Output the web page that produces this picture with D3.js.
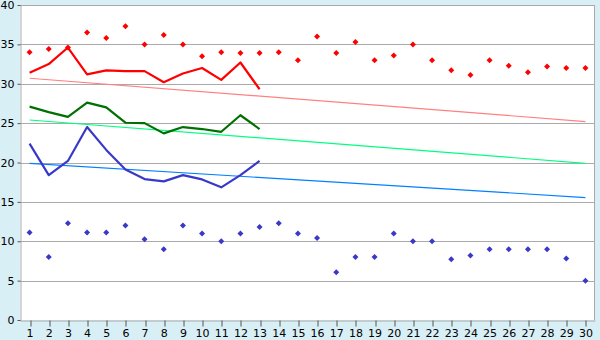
<!DOCTYPE html>
<html>
<head>
<meta charset="utf-8">
<script src="https://cdn.jsdelivr.net/npm/d3@7"></script>
<style>
  body { margin: 0; background: #d9eff6; }
  svg { display: block; }
  .tick text { font-family: "DejaVu Sans", sans-serif; font-size: 11px; fill: #000; }
</style>
</head>
<body>
<div id="chart"></div>
<script>
const days = d3.range(1, 31);
const yTicks = [0, 5, 10, 15, 20, 25, 30, 35, 40];

// daily points (full month)
const redPoints = [34.0, 34.4, 34.6, 36.5, 35.8, 37.3, 35.0, 36.2, 35.0, 33.5,
  34.0, 33.9, 33.9, 34.0, 33.0, 36.0, 33.9, 35.3, 33.0, 33.6,
  35.0, 33.0, 31.7, 31.1, 33.0, 32.3, 31.45, 32.2, 32.0, 32.0];
const bluePoints = [11.1, 8.0, 12.3, 11.1, 11.1, 12.0, 10.25, 9.0, 12.0, 11.0,
  10.0, 11.0, 11.8, 12.3, 11.0, 10.4, 6.05, 8.0, 8.0, 11.0,
  10.0, 10.0, 7.7, 8.2, 9.0, 9.0, 9.0, 9.0, 7.8, 5.0];

// lines (days 1..13)
const redLine = [31.4, 32.5, 34.6, 31.2, 31.7, 31.6, 31.6, 30.2, 31.3, 32.0, 30.5, 32.7, 29.3];
const greenLine = [27.1, 26.4, 25.8, 27.6, 27.0, 25.05, 25.0, 23.7, 24.5, 24.25, 23.9, 26.0, 24.25];
const blueLine = [22.4, 18.4, 20.2, 24.5, 21.6, 19.1, 17.9, 17.6, 18.4, 17.85, 16.85, 18.4, 20.2];

// trend lines, value at day 1 and day 30
const redTrend = [30.7, 25.2];
const greenTrend = [25.4, 19.9];
const blueTrend = [19.9, 15.55];

const width = 600, height = 340;
const margin = { top: 5, right: 5, bottom: 20, left: 20 };

const svg = d3.select('#chart').append('svg')
  .attr('width', width)
  .attr('height', height);

const x = d3.scalePoint()
  .domain(days)
  .range([margin.left, width - margin.right])
  .padding(0.5);

const y = d3.scaleLinear()
  .domain([0, 40])
  .range([height - margin.bottom, margin.top]);

const crisp = v => Math.round(v) + 0.5;

// plot background
svg.append('rect')
  .attr('x', margin.left)
  .attr('y', margin.top)
  .attr('width', width - margin.left - margin.right)
  .attr('height', height - margin.top - margin.bottom)
  .attr('fill', '#fff');

// gridlines
svg.append('g')
  .selectAll('line')
  .data(yTicks.filter(t => t > 0))
  .enter()
  .append('line')
  .attr('x1', margin.left)
  .attr('x2', width - margin.right)
  .attr('y1', d => crisp(y(d)))
  .attr('y2', d => crisp(y(d)))
  .attr('stroke', '#aaa');

// right border
svg.append('line')
  .attr('x1', crisp(width - margin.right - 1))
  .attr('x2', crisp(width - margin.right - 1))
  .attr('y1', margin.top)
  .attr('y2', height - margin.bottom)
  .attr('stroke', '#aaa');

// axes
const xAxis = svg.append('g')
  .attr('transform', `translate(0,${crisp(y(0))})`)
  .call(d3.axisBottom(x).tickSize(6).tickPadding(3).tickSizeOuter(0));

const yAxis = svg.append('g')
  .attr('transform', `translate(${crisp(margin.left)},0)`)
  .call(d3.axisLeft(y).tickValues(yTicks).tickSize(3).tickPadding(3).tickSizeOuter(0));

[xAxis, yAxis].forEach(a => {
  a.select('.domain').attr('stroke', '#aaa');
  a.selectAll('.tick line').attr('stroke', '#555');
});
xAxis.selectAll('.tick line').attr('transform', d => `translate(${crisp(x(d)) - x(d)},0)`);

// trend lines
const trends = [
  { vals: redTrend, color: '#ff8080' },
  { vals: greenTrend, color: '#00ff80' },
  { vals: blueTrend, color: '#0080ff' }
];
trends.forEach(t => {
  svg.append('line')
    .attr('x1', x(days[0]))
    .attr('x2', x(days[days.length - 1]))
    .attr('y1', y(t.vals[0]))
    .attr('y2', y(t.vals[1]))
    .attr('stroke', t.color)
    .attr('stroke-width', 1.2);
});

// main lines
const line = d3.line()
  .x((d, i) => x(days[i]))
  .y(d => y(d));

[
  { vals: greenLine, color: '#007000' },
  { vals: blueLine, color: '#3939c9' },
  { vals: redLine, color: '#ff0000' }
].forEach(s => {
  svg.append('path')
    .datum(s.vals)
    .attr('fill', 'none')
    .attr('stroke', s.color)
    .attr('stroke-width', 2.2)
    .attr('stroke-linejoin', 'round')
    .attr('d', line);
});

// point markers
const marker = d3.symbol(d3.symbolSquare, 18);
[
  { vals: redPoints, color: '#ff0000' },
  { vals: bluePoints, color: '#3939c9' }
].forEach(s => {
  svg.append('g')
    .selectAll('path')
    .data(s.vals)
    .enter()
    .append('path')
    .attr('d', marker)
    .attr('transform', (d, i) => `translate(${x(days[i])},${y(d)}) rotate(45)`)
    .attr('fill', s.color);
});
</script>
</body>
</html>
